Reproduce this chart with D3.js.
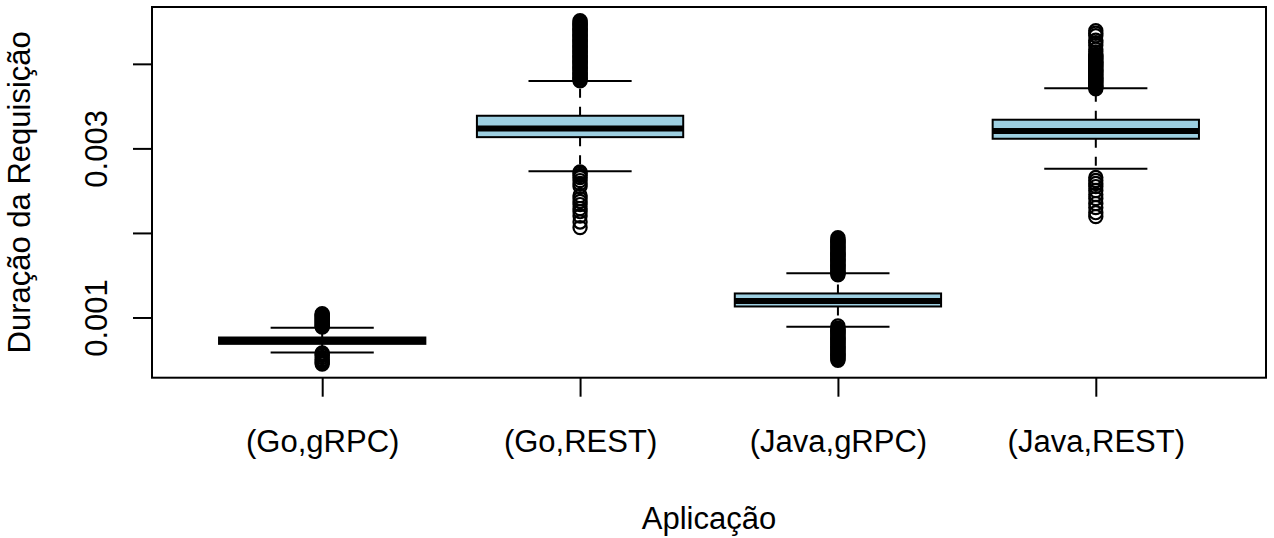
<!DOCTYPE html>
<html>
<head>
<meta charset="utf-8">
<script src="https://cdn.jsdelivr.net/npm/d3@7"></script>
<style>
  html, body { margin: 0; padding: 0; background: #ffffff; }
  svg { display: block; }
  text { font-family: "Liberation Sans", Arial, Helvetica, sans-serif; fill: #000; }
</style>
</head>
<body>
<svg id="chart" width="1274" height="538"></svg>
<script>
// ---------------- data ----------------
const categories = ["(Go,gRPC)", "(Go,REST)", "(Java,gRPC)", "(Java,REST)"];
const lowerWhisker = [0.000585, 0.002730, 0.000890, 0.002758];
const q1Values     = [0.000688, 0.003133, 0.001130, 0.003114];
const medianValues = [0.000724, 0.003236, 0.001194, 0.003206];
const q3Values     = [0.000763, 0.003386, 0.001284, 0.003339];
const upperWhisker = [0.000878, 0.003796, 0.001522, 0.003710];

const outliersGoGrpc = [
  0.000886, 0.000897, 0.000909, 0.000921, 0.000932, 0.000944, 0.000956, 0.000968,
  0.000979, 0.000991, 0.001003, 0.001014, 0.001026, 0.001036, 0.001044,
  0.000580, 0.000566, 0.000551, 0.000527, 0.000503, 0.000486, 0.000468, 0.000450
];
const outliersGoRest = [
  0.003800, 0.003812, 0.003829, 0.003841, 0.003856, 0.003870, 0.003887, 0.003899,
  0.003915, 0.003928, 0.003944, 0.003957, 0.003973, 0.003986, 0.004001, 0.004015,
  0.004032, 0.004044, 0.004060, 0.004073, 0.004089, 0.004102, 0.004118, 0.004131,
  0.004147, 0.004160, 0.004176, 0.004190, 0.004205, 0.004219, 0.004234, 0.004248,
  0.004263, 0.004277, 0.004292, 0.004306, 0.004321, 0.004335, 0.004350, 0.004364,
  0.004379, 0.004393, 0.004408, 0.004422, 0.004437, 0.004451, 0.004466, 0.004480,
  0.004495, 0.004510,
  0.002720, 0.002703, 0.002679, 0.002655, 0.002619, 0.002584, 0.002548, 0.002442,
  0.002406, 0.002371, 0.002335, 0.002288, 0.002252, 0.002200, 0.002130, 0.002063
];
const outliersJavaGrpc = [
  0.001505, 0.001518, 0.001533, 0.001547, 0.001560, 0.001575, 0.001589, 0.001602,
  0.001617, 0.001631, 0.001644, 0.001659, 0.001673, 0.001686, 0.001701, 0.001715,
  0.001728, 0.001743, 0.001757, 0.001770, 0.001785, 0.001799, 0.001812, 0.001827,
  0.001841, 0.001854, 0.001869, 0.001883, 0.001896, 0.001911, 0.001925, 0.001944,
  0.000900, 0.000872, 0.000860, 0.000846, 0.000833, 0.000819, 0.000806, 0.000792,
  0.000779, 0.000765, 0.000752, 0.000738, 0.000725, 0.000711, 0.000698, 0.000684,
  0.000671, 0.000657, 0.000644, 0.000630, 0.000617, 0.000603, 0.000590, 0.000576,
  0.000563, 0.000549, 0.000536, 0.000522, 0.000509, 0.000493
];
const outliersJavaRest = [
  0.004391, 0.004362, 0.004332, 0.004279, 0.004249, 0.004219, 0.004172, 0.004142,
  0.004110, 0.004097, 0.004083, 0.004070, 0.004056, 0.004043, 0.004029, 0.004016,
  0.004002, 0.003989, 0.003975, 0.003962, 0.003948, 0.003935, 0.003921, 0.003908,
  0.003894, 0.003881, 0.003867, 0.003854, 0.003840, 0.003827, 0.003813, 0.003800,
  0.003786, 0.003773, 0.003759, 0.003746, 0.003732, 0.003719, 0.003705,
  0.002655, 0.002620, 0.002584, 0.002548, 0.002501, 0.002454, 0.002406, 0.002347,
  0.002300, 0.002240, 0.002193
];
const outlierGroups = [outliersGoGrpc, outliersGoRest, outliersJavaGrpc, outliersJavaRest];

const yTicks = [0.001, 0.002, 0.003, 0.004];
const yTickLabels = ["0.001", "", "0.003", ""];
const xTitle = "Aplicação";
const yTitle = "Duração da Requisição";

// ---------------- layout ----------------
const W = 1274, H = 538;
const plot = { left: 152, right: 1266, top: 7, bottom: 377.7 };
const FONT = 31;
const LW = 2;

const svg = d3.select("#chart");
svg.append("rect").attr("width", W).attr("height", H).attr("fill", "#ffffff");

// R-style 4% padding of data range
const allVals = [].concat(lowerWhisker, upperWhisker, ...outlierGroups);
const dMin = d3.min(allVals), dMax = d3.max(allVals);
const pad = (dMax - dMin) * 0.04;
const y = d3.scaleLinear().domain([dMin - pad, dMax + pad]).range([plot.bottom, plot.top]);

const n = categories.length;
const xPad = n * 0.04;
const x = d3.scaleLinear().domain([0.5 - xPad, n + 0.5 + xPad]).range([plot.left, plot.right]);
const boxHalf = (x(1.4) - x(1));      // box width 0.8 units
const stapleHalf = (x(1.2) - x(1));   // staple width 0.4 units

const g = svg.append("g");

categories.forEach((cat, i) => {
  const cx = x(i + 1);
  // whiskers (dashed), from box edge outwards
  g.append("line")
    .attr("x1", cx).attr("x2", cx)
    .attr("y1", y(q3Values[i])).attr("y2", y(upperWhisker[i]))
    .attr("stroke", "#000").attr("stroke-width", LW).attr("stroke-dasharray", "9,9");
  g.append("line")
    .attr("x1", cx).attr("x2", cx)
    .attr("y1", y(q1Values[i])).attr("y2", y(lowerWhisker[i]))
    .attr("stroke", "#000").attr("stroke-width", LW).attr("stroke-dasharray", "9,9");
  // staples
  [upperWhisker[i], lowerWhisker[i]].forEach(v => {
    g.append("line")
      .attr("x1", cx - stapleHalf).attr("x2", cx + stapleHalf)
      .attr("y1", y(v)).attr("y2", y(v))
      .attr("stroke", "#000").attr("stroke-width", LW);
  });
  // box
  g.append("rect")
    .attr("x", cx - boxHalf).attr("width", 2 * boxHalf)
    .attr("y", y(q3Values[i])).attr("height", y(q1Values[i]) - y(q3Values[i]))
    .attr("fill", "#9dcfe1").attr("stroke", "#000").attr("stroke-width", LW);
  // median
  g.append("line")
    .attr("x1", cx - boxHalf).attr("x2", cx + boxHalf)
    .attr("y1", y(medianValues[i])).attr("y2", y(medianValues[i]))
    .attr("stroke", "#000").attr("stroke-width", 3 * LW);
  // outliers
  g.selectAll(null).data(outlierGroups[i]).enter().append("circle")
    .attr("cx", cx).attr("cy", d => y(d)).attr("r", 6.6)
    .attr("fill", "none").attr("stroke", "#000").attr("stroke-width", 2.2);
});

// frame
svg.append("rect")
  .attr("x", plot.left).attr("y", plot.top)
  .attr("width", plot.right - plot.left).attr("height", plot.bottom - plot.top)
  .attr("fill", "none").attr("stroke", "#000").attr("stroke-width", LW);

// y axis
const yAxis = d3.axisLeft(y).tickValues(yTicks).tickSize(19)
  .tickFormat((d, i) => yTickLabels[i]);
const yg = svg.append("g").attr("transform", `translate(${plot.left},0)`).call(yAxis);
yg.select(".domain").remove();
yg.selectAll(".tick line").attr("stroke", "#000").attr("stroke-width", LW);
yg.selectAll(".tick text")
  .attr("transform", "rotate(-90)")
  .attr("x", 0).attr("y", -45).attr("dy", 0)
  .attr("text-anchor", "middle")
  .style("font-size", FONT + "px")
  .style("font-family", '"Liberation Sans", Arial, sans-serif');

// x axis
const xAxis = d3.axisBottom(x).tickValues(d3.range(1, n + 1)).tickSize(19)
  .tickFormat(d => categories[d - 1]);
const xg = svg.append("g").attr("transform", `translate(0,${plot.bottom})`).call(xAxis);
xg.select(".domain").remove();
xg.selectAll(".tick line").attr("stroke", "#000").attr("stroke-width", LW);
xg.selectAll(".tick text")
  .attr("y", 74).attr("dy", 0)
  .style("font-size", FONT + "px")
  .style("font-family", '"Liberation Sans", Arial, sans-serif');

// titles
svg.append("text")
  .attr("x", (plot.left + plot.right) / 2).attr("y", 529)
  .attr("text-anchor", "middle")
  .style("font-size", FONT + "px")
  .text(xTitle);

svg.append("text")
  .attr("transform", `translate(29.5,${(plot.top + plot.bottom) / 2}) rotate(-90)`)
  .attr("text-anchor", "middle")
  .style("font-size", FONT + "px")
  .text(yTitle);
</script>
</body>
</html>
